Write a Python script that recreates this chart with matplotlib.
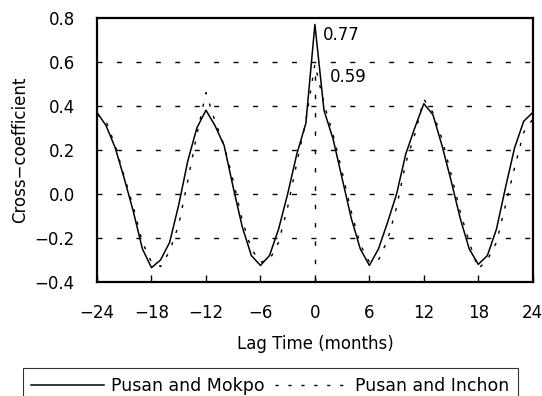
import matplotlib
matplotlib.use("Agg")
import matplotlib.pyplot as plt
import numpy as np

plt.rcParams['font.family'] = ['DejaVu Sans']

lags = np.arange(-24, 25)

mokpo = [0.37, 0.31, 0.21, 0.07, -0.08, -0.25, -0.335, -0.30, -0.22, -0.05,
         0.15, 0.30, 0.38, 0.31, 0.22, 0.03, -0.15, -0.28, -0.325, -0.28,
         -0.16, 0.00, 0.18, 0.32, 0.77, 0.38, 0.25, 0.07, -0.11, -0.25,
         -0.325, -0.25, -0.13, 0.00, 0.18, 0.30, 0.41, 0.36, 0.22, 0.06,
         -0.11, -0.25, -0.32, -0.28, -0.16, 0.03, 0.21, 0.33, 0.37]

inchon = [0.36, 0.33, 0.22, 0.08, -0.06, -0.22, -0.31, -0.33, -0.26, -0.14,
          0.06, 0.27, 0.46, 0.33, 0.22, 0.06, -0.12, -0.25, -0.31, -0.30,
          -0.22, -0.06, 0.14, 0.33, 0.59, 0.41, 0.27, 0.10, -0.08, -0.23,
          -0.31, -0.30, -0.21, -0.06, 0.14, 0.27, 0.43, 0.37, 0.25, 0.09,
          -0.08, -0.22, -0.34, -0.30, -0.22, -0.05, 0.12, 0.28, 0.34]

series_names = ["Pusan and Mokpo", "Pusan and Inchon"]
xticks = [-24, -18, -12, -6, 0, 6, 12, 18, 24]
yticks = [-0.4, -0.2, 0.0, 0.2, 0.4, 0.6, 0.8]

FS = 12

fig = plt.figure(figsize=(5.42, 3.96), dpi=100)
ax = fig.add_axes([0.179, 0.288, 0.804, 0.667])

# horizontal dashed grid
for yv in yticks[1:-1]:
    ax.axhline(yv, color='black', lw=1.0, dashes=(3.6, 10.4), zorder=1)

peak_m = mokpo[list(lags).index(0)]
peak_i = inchon[list(lags).index(0)]
ax.plot([0, 0], [-0.4, peak_i], color='black', lw=1.0, dashes=(3.2, 10.0), zorder=1)

l1, = ax.plot(lags, mokpo, color='black', lw=1.1, zorder=3)
l2, = ax.plot(lags, inchon, color='black', lw=1.0, dashes=(2.3, 7.0), zorder=2)

ax.text(0.9, peak_m - 0.05, f"{peak_m:.2f}", fontsize=FS, va='center', ha='left')
ax.text(1.6, peak_i - 0.06, f"{peak_i:.2f}", fontsize=FS, va='center', ha='left')

ax.set_xlim(-24, 24)
ax.set_ylim(-0.4, 0.8)
ax.set_xticks(xticks)
ax.set_xticklabels([f"{t}".replace('-', '\u2212') for t in xticks])
ax.set_yticks(yticks)
ax.set_yticklabels([f"{t:.1f}".replace('-', '\u2212') for t in yticks])
ax.tick_params(axis='x', direction='in', length=5, width=1, labelsize=FS, pad=16)
ax.tick_params(axis='y', length=0, labelsize=FS, pad=16)
for s in ax.spines.values():
    s.set_linewidth(1.6)

ax.set_xlabel("Lag Time (months)", fontsize=FS, labelpad=9)
ax.set_ylabel("Cross\u2212coefficient", fontsize=FS, labelpad=4)

leg = fig.legend([l1, l2], series_names, loc='upper center', ncol=2,
                 bbox_to_anchor=(270.5 / 542, 1 - 368 / 396), fontsize=12.5,
                 frameon=True, fancybox=False, edgecolor='black',
                 handlelength=4.2, handletextpad=0.4, columnspacing=0.6,
                 borderpad=0.5, borderaxespad=0)
leg.get_frame().set_linewidth(0.8)

fig.savefig("out.png", dpi=100)
